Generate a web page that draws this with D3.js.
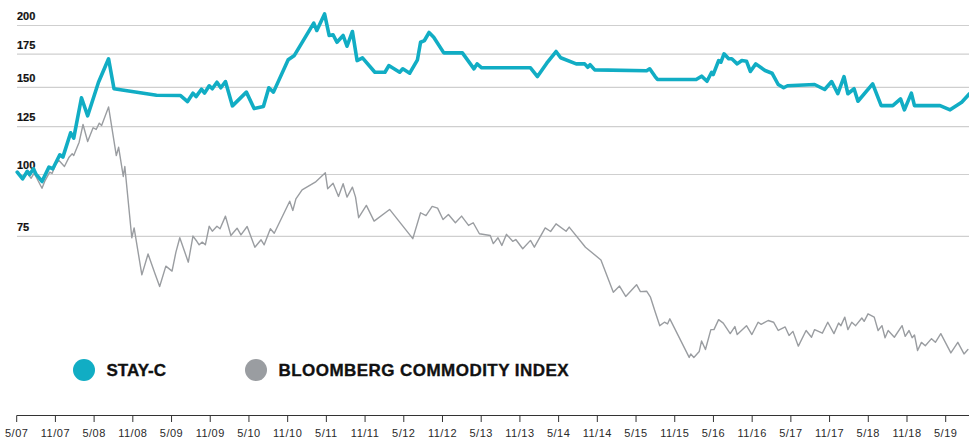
<!DOCTYPE html>
<html>
<head>
<meta charset="utf-8">
<script src="https://d3js.org/d3.v7.min.js"></script>
<style>
  body { margin: 0; background: #fff; }
  svg { font-family: "Liberation Sans", Arial, sans-serif; }
  .grid line { stroke: #cfcfcf; stroke-width: 1.2px; }
  .ylab { font-size: 11px; font-weight: bold; fill: #111; stroke: #111; stroke-width: 0.2px; }
  .line { fill: none; stroke-linejoin: round; stroke-linecap: round; }
  .axis text { font-size: 11px; fill: #2a2a2a; letter-spacing: 0.5px; }
  .legend text { font-size: 17px; font-weight: bold; fill: #111; stroke: #111; stroke-width: 0.35px; }
</style>
</head>
<body>
<div id="chart"></div>
<script>
// dates are decimal years, values are indexed to 100 (log scale)
var stayDates = [2007.34,2007.41,2007.47,2007.50,2007.55,2007.58,2007.66,2007.75,2007.80,2007.89,2007.93,
  2008.03,2008.07,2008.17,2008.25,2008.39,2008.52,2008.59,2009.14,2009.45,2009.54,2009.61,2009.65,2009.72,
  2009.76,2009.82,2009.86,2009.92,2009.97,2010.03,2010.12,2010.30,2010.40,2010.52,2010.59,2010.65,2010.84,
  2010.92,2011.17,2011.21,2011.31,2011.37,2011.42,2011.47,2011.55,2011.60,2011.67,2011.73,2011.80,2011.96,
  2012.09,2012.14,2012.28,2012.32,2012.41,2012.51,2012.55,2012.60,2012.66,2012.72,2012.85,2013.09,2013.24,
  2013.28,2013.34,2013.97,2014.06,2014.18,2014.30,2014.36,2014.56,2014.67,2014.71,2014.74,2014.80,2015.47,
  2015.51,2015.58,2015.61,2016.11,2016.18,2016.25,2016.31,2016.33,2016.40,2016.43,2016.47,2016.53,2016.57,
  2016.64,2016.70,2016.76,2016.81,2016.88,2017.00,2017.09,2017.17,2017.24,2017.29,2017.64,2017.77,2017.86,
  2017.94,2018.02,2018.07,2018.15,2018.20,2018.39,2018.50,2018.65,2018.75,2018.80,2018.89,2018.93,2019.26,
  2019.39,2019.54,2019.64];
var stayValues = [101.1,98.0,101.5,100,102.7,100.3,96.8,103.5,102.7,109.6,108.4,
  121.4,118.4,142.9,131.4,153.6,171.3,149,144.6,144.4,140.4,146,143.7,148.7,
  146,151.1,149,153.6,149.7,154.1,137.6,146.7,135.9,137.2,149.7,146.7,170.5,
  174,202.2,195.4,211.1,190.9,191.6,185,190.9,181.6,194.5,169.9,172.1,160.9,
  160.9,166,160.9,163.5,160.2,170.5,185,186.5,193.6,189.4,176.1,176.1,163.5,
  167.3,164.3,164.3,157.7,167.8,177.2,172.1,167.3,167.3,164.7,166.6,162.7,162,
  163.5,157.7,155.6,155.6,158,154.3,160.9,159.2,169.9,168.6,175.3,171.3,171.3,
  167.3,169.9,169.4,161.5,167.3,162.2,160.2,152,149.7,151.1,152,148.5,154.1,
  145.6,157.7,145.6,149,140.6,152.5,137.8,137.8,142.2,135.1,146,137.8,137.8,
  135.1,140,145.6];

var bcomDates = [2007.33,2007.42,2007.47,2007.52,2007.56,2007.66,2007.70,2007.76,2007.79,2007.84,2007.88,
  2007.95,2008.01,2008.05,2008.07,2008.14,2008.19,2008.25,2008.32,2008.36,2008.40,2008.43,2008.52,2008.62,
  2008.65,2008.71,2008.73,2008.82,2008.85,2008.95,2009.03,2009.12,2009.18,2009.26,2009.34,2009.39,2009.44,
  2009.55,2009.61,2009.66,2009.69,2009.73,2009.77,2009.82,2009.86,2009.92,2009.96,2010.03,2010.10,2010.18,
  2010.23,2010.31,2010.41,2010.49,2010.53,2010.61,2010.66,2010.86,2010.90,2010.94,2011.02,2011.19,2011.32,
  2011.35,2011.42,2011.49,2011.55,2011.60,2011.67,2011.71,2011.75,2011.85,2011.95,2012.15,2012.45,2012.55,
  2012.62,2012.70,2012.77,2012.84,2012.91,2013.00,2013.08,2013.17,2013.23,2013.31,2013.45,2013.49,2013.55,
  2013.60,2013.66,2013.74,2013.78,2013.87,2013.97,2014.02,2014.16,2014.23,2014.30,2014.43,2014.47,2014.68,
  2014.88,2015.04,2015.12,2015.20,2015.34,2015.39,2015.47,2015.52,2015.58,2015.64,2015.70,2015.74,2015.77,
  2016.02,2016.04,2016.08,2016.15,2016.18,2016.23,2016.30,2016.34,2016.40,2016.46,2016.55,2016.61,2016.64,
  2016.76,2016.83,2016.91,2016.95,2017.04,2017.11,2017.17,2017.26,2017.31,2017.36,2017.43,2017.53,2017.60,
  2017.64,2017.74,2017.81,2017.89,2017.95,2017.98,2018.03,2018.07,2018.12,2018.17,2018.25,2018.28,2018.33,
  2018.41,2018.46,2018.51,2018.55,2018.59,2018.67,2018.77,2018.81,2018.86,2018.90,2018.93,2018.97,2019.02,
  2019.07,2019.15,2019.20,2019.27,2019.40,2019.49,2019.57,2019.62];
var bcomValues = [101.1,98.8,100.5,98.3,100.6,93.8,97.2,101.1,100.5,105.1,106.7,
  103.8,108.4,110.1,109.2,116.2,126.2,116.6,124.3,123.3,127,125.6,136.9,109.2,
  113.5,99.1,103.8,74.5,78,62.7,69.1,63,59.4,65.3,63.8,69.7,74.5,
  66.5,75.1,73.3,72.1,73,72.1,78.6,76.8,78.6,77.7,82.4,75.3,77.9,
  75.5,78.5,71.3,73.8,72.1,77.7,76.1,88.3,84.6,89.3,93.1,96.5,100.8,
  93.6,96,90.3,95.8,90,94.3,90,81.8,86.6,80.5,85,74.2,83.7,
  82.6,86.2,85.5,81.1,83,79.9,82.4,78.9,79.9,75.9,75.3,72.5,74.5,
  71.9,75.7,73.3,73.9,70.8,73.6,71.3,78,76.7,79.5,76.8,78.3,71.3,
  67.2,57.8,59.5,56.7,59.9,58,58.1,56.5,52.8,49.5,50.3,49.9,51.1,
  42.7,43.4,42.7,43.9,46.1,44.3,48.6,48.6,50.9,50.1,47.7,49.3,47.5,
  49.5,47.5,50.3,49.8,50.7,50.3,48.4,49.2,47.3,48.2,45,48.4,46.9,
  48.6,47.8,50.3,47.7,50.1,49.5,51.5,48.6,50.3,49.5,51.3,50.5,52.3,
  51.5,48.4,49.5,46.8,48.4,46.9,49.5,47.1,48.4,46.8,47.4,44.1,45.8,
  45.1,46.6,45.8,47.7,43.6,45.8,43.4,44.3];

var yTicks = [75, 100, 125, 150, 175, 200];
var xTickLabels = ["5/07","11/07","5/08","11/08","5/09","11/09","5/10","11/10","5/11","11/11","5/12","11/12","5/13",
  "11/13","5/14","11/14","5/15","11/15","5/16","11/16","5/17","11/17","5/18","11/18","5/19"];
var seriesNames = ["STAY-C", "BLOOMBERG COMMODITY INDEX"];
var seriesColors = ["#11adc4", "#9a9da1"];

var width = 969, height = 439;

var svg = d3.select("#chart").append("svg")
  .attr("width", width)
  .attr("height", height);

var x = d3.scaleLinear()
  .domain([2007 + 4/12, 2019 + 4/12])
  .range([16.7, 945.7]);

var y = d3.scaleLog()
  .domain([100, 200])
  .range([174.5, 25.5]);

/* grid + y labels */
var grid = svg.append("g").attr("class", "grid");
grid.selectAll("line")
  .data(yTicks).enter()
  .append("line")
  .attr("x1", 17)
  .attr("x2", width)
  .attr("y1", d => y(d))
  .attr("y2", d => y(d));

grid.selectAll("text")
  .data(yTicks).enter()
  .append("text")
  .attr("class", "ylab")
  .attr("x", 17)
  .attr("y", d => y(d) - 5.5)
  .text(d => d);

/* lines */
var line = d3.line()
  .x(d => x(d[0]))
  .y(d => y(d[1]));

var bcom = bcomDates.map((d, i) => [d, bcomValues[i]]);
var stay = stayDates.map((d, i) => [d, stayValues[i]]);

svg.append("path")
  .attr("class", "line")
  .attr("d", line(bcom))
  .style("stroke", seriesColors[1])
  .style("stroke-width", 1.4);

svg.append("path")
  .attr("class", "line")
  .attr("d", line(stay))
  .style("stroke", seriesColors[0])
  .style("stroke-width", 3.6);

/* legend */
var legendX = [84, 256];
var legend = svg.append("g").attr("class", "legend");
legend.selectAll("circle")
  .data(seriesNames).enter()
  .append("circle")
  .attr("cx", (d, i) => legendX[i])
  .attr("cy", 370)
  .attr("r", 11)
  .style("fill", (d, i) => seriesColors[i]);
legend.selectAll("text")
  .data(seriesNames).enter()
  .append("text")
  .attr("x", (d, i) => legendX[i] + 22.5)
  .attr("y", 376)
  .style("letter-spacing", (d, i) => i ? "0.45px" : "0px")
  .text(d => d);

/* x axis */
var tickVals = xTickLabels.map((d, i) => 2007 + 4/12 + i * 0.5);
var axis = svg.append("g").attr("class", "axis");
axis.append("line")
  .attr("x1", 16.7).attr("x2", width)
  .attr("y1", 415.5).attr("y2", 415.5)
  .style("stroke", "#333").style("stroke-width", 1);
axis.selectAll(".tick")
  .data(tickVals).enter()
  .append("line")
  .attr("class", "tick")
  .attr("x1", d => x(d)).attr("x2", d => x(d))
  .attr("y1", 415.5).attr("y2", 422)
  .style("stroke", "#333");
axis.selectAll("text")
  .data(tickVals).enter()
  .append("text")
  .attr("x", d => x(d))
  .attr("y", 437)
  .attr("text-anchor", "middle")
  .text((d, i) => xTickLabels[i]);
</script>
</body>
</html>
